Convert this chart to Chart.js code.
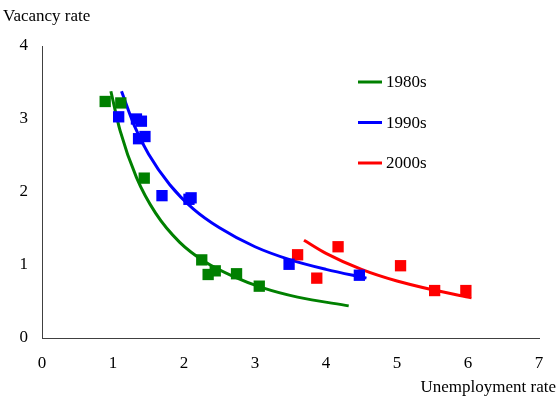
<!DOCTYPE html>
<html>
<head>
<meta charset="utf-8">
<script src="https://cdn.jsdelivr.net/npm/chart.js@4"></script>
<style>
  html, body { margin: 0; padding: 0; background: #fff; }
  #wrap { width: 558px; height: 403px; position: relative; }
</style>
</head>
<body>
<div id="wrap"><canvas id="chart"></canvas></div>
<script>
// Observations (unemployment rate, vacancy rate)
const x1980 = [0.89, 1.11, 1.44, 2.25, 2.34, 2.44, 2.74, 3.06];
const y1980 = [3.24, 3.22, 2.19, 1.07, 0.87, 0.92, 0.88, 0.71];
const x1990 = [1.08, 1.33, 1.40, 1.36, 1.45, 1.69, 2.07, 2.10, 3.48, 4.47];
const y1990 = [3.03, 3.00, 2.97, 2.73, 2.76, 1.95, 1.90, 1.92, 1.01, 0.86];
const x2000 = [3.60, 3.87, 4.17, 5.05, 5.53, 5.97];
const y2000 = [1.14, 0.82, 1.25, 0.99, 0.65, 0.65];

// Fitted curves
const fitX1980 = [0.97, 1.10, 1.33, 1.60, 1.94, 2.30, 2.70, 3.10, 3.60, 4.32];
const fitY1980 = [3.38, 2.84, 2.20, 1.71, 1.31, 1.04, 0.84, 0.69, 0.56, 0.44];
const fitX1990 = [1.12, 1.30, 1.50, 1.80, 2.13, 2.50, 3.00, 3.50, 4.00, 4.57];
const fitY1990 = [3.38, 2.91, 2.52, 2.10, 1.77, 1.51, 1.25, 1.07, 0.94, 0.82];
const fitX2000 = [3.69, 4.00, 4.50, 5.00, 5.50, 6.05];
const fitY2000 = [1.34, 1.16, 0.94, 0.78, 0.66, 0.55];

const decades = ['1980s', '1990s', '2000s'];
const colors = ['#008000', '#0000ff', '#ff0000'];
const xTicks = [0, 1, 2, 3, 4, 5, 6, 7];
const yTicks = [0, 1, 2, 3, 4];

const FONT = '"Liberation Serif", "Times New Roman", serif';
const pts = (xs, ys) => xs.map((x, i) => ({ x: x, y: ys[i] }));

const fits = [[fitX1980, fitY1980], [fitX1990, fitY1990], [fitX2000, fitY2000]];
const obs = [[x1980, y1980], [x1990, y1990], [x2000, y2000]];

const datasets = [];
fits.forEach((f, i) => {
  datasets.push({
    label: decades[i],
    data: pts(f[0], f[1]),
    showLine: true,
    borderColor: colors[i],
    borderWidth: 3,
    pointRadius: 0,
    cubicInterpolationMode: 'monotone',
    order: 2
  });
});
obs.forEach((o, i) => {
  datasets.push({
    label: decades[i] + ' data',
    data: pts(o[0], o[1]),
    showLine: false,
    backgroundColor: colors[i],
    borderWidth: 0,
    pointStyle: 'rect',
    pointRadius: 8,
    order: 1
  });
});

// Axis titles and a hand-placed legend
const extras = {
  id: 'extras',
  afterDraw(chart) {
    const ctx = chart.ctx;
    ctx.save();
    ctx.fillStyle = '#000';
    ctx.font = '17px ' + FONT;
    ctx.textBaseline = 'middle';
    ctx.textAlign = 'left';
    ctx.fillText('Vacancy rate', 3, 17);
    ctx.textAlign = 'right';
    ctx.fillText('Unemployment rate', 556, 388);
    ctx.textAlign = 'left';
    decades.forEach((d, i) => {
      const y = 82 + i * 40.5;
      ctx.strokeStyle = colors[i];
      ctx.lineWidth = 3;
      ctx.beginPath();
      ctx.moveTo(358, y);
      ctx.lineTo(382, y);
      ctx.stroke();
      ctx.fillText(d, 386, y + 1);
    });
    ctx.restore();
  }
};

new Chart(document.getElementById('chart'), {
  type: 'scatter',
  data: { datasets: datasets },
  options: {
    responsive: true,
    maintainAspectRatio: false,
    animation: false,
    layout: { padding: { top: 46, right: 19, left: 0, bottom: 0 } },
    plugins: { legend: { display: false }, tooltip: { enabled: false } },
    scales: {
      x: {
        type: 'linear',
        min: 0, max: 7,
        afterBuildTicks: s => { s.ticks = xTicks.map(v => ({ value: v })); },
        afterFit: s => { s.height = 403 - 338; },
        grid: { display: false, drawOnChartArea: false, drawTicks: true, tickLength: 5, tickColor: '#404040' },
        border: { color: '#404040', width: 1 },
        ticks: { color: '#000', font: { family: FONT, size: 17 }, padding: 10, maxRotation: 0 }
      },
      y: {
        type: 'linear',
        min: 0, max: 4,
        afterBuildTicks: s => { s.ticks = yTicks.map(v => ({ value: v })); },
        afterFit: s => { s.width = 42; },
        grid: { display: false, drawOnChartArea: false, drawTicks: true, tickLength: 5, tickColor: '#404040' },
        border: { color: '#404040', width: 1 },
        ticks: { color: '#000', font: { family: FONT, size: 17 }, padding: 9 }
      }
    }
  },
  plugins: [extras]
});
</script>
</body>
</html>
